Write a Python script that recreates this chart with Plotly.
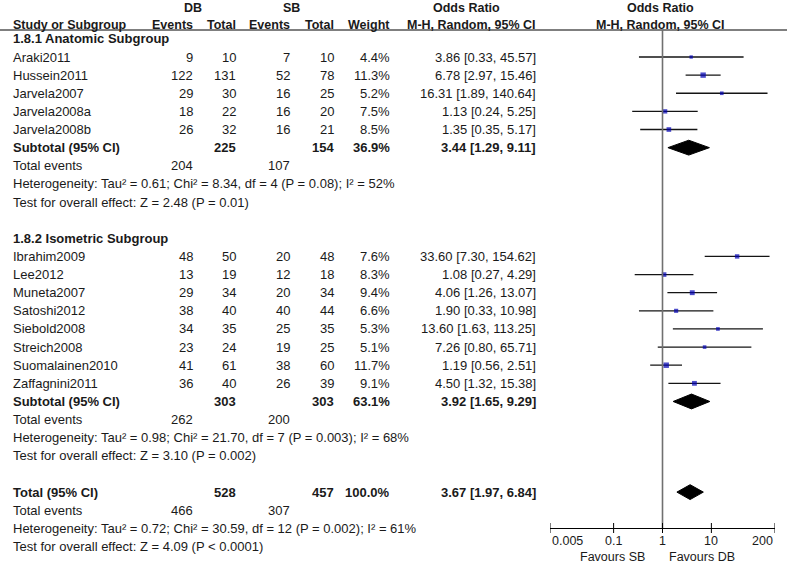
import math
import plotly.graph_objects as go

W, H = 787, 563

# ---------------- data ----------------
g1_title = "1.8.1 Anatomic Subgroup"
g1_studies = ["Araki2011", "Hussein2011", "Jarvela2007", "Jarvela2008a", "Jarvela2008b"]
g1_db_events = [9, 122, 29, 18, 26]
g1_db_total = [10, 131, 30, 22, 32]
g1_sb_events = [7, 52, 16, 16, 16]
g1_sb_total = [10, 78, 25, 20, 21]
g1_weight = [4.4, 11.3, 5.2, 7.5, 8.5]
g1_or = [3.86, 6.78, 16.31, 1.13, 1.35]
g1_lo = [0.33, 2.97, 1.89, 0.24, 0.35]
g1_hi = [45.57, 15.46, 140.64, 5.25, 5.17]
g1_sub = dict(db_total=225, sb_total=154, weight=36.9, est=3.44, lo=1.29, hi=9.11,
              db_ev=204, sb_ev=107)
g1_het = "Heterogeneity: Tau² = 0.61; Chi² = 8.34, df = 4 (P = 0.08); I² = 52%"
g1_test = "Test for overall effect: Z = 2.48 (P = 0.01)"

g2_title = "1.8.2 Isometric Subgroup"
g2_studies = ["Ibrahim2009", "Lee2012", "Muneta2007", "Satoshi2012", "Siebold2008",
              "Streich2008", "Suomalainen2010", "Zaffagnini2011"]
g2_db_events = [48, 13, 29, 38, 34, 23, 41, 36]
g2_db_total = [50, 19, 34, 40, 35, 24, 61, 40]
g2_sb_events = [20, 12, 20, 40, 25, 19, 38, 26]
g2_sb_total = [48, 18, 34, 44, 35, 25, 60, 39]
g2_weight = [7.6, 8.3, 9.4, 6.6, 5.3, 5.1, 11.7, 9.1]
g2_or = [33.60, 1.08, 4.06, 1.90, 13.60, 7.26, 1.19, 4.50]
g2_lo = [7.30, 0.27, 1.26, 0.33, 1.63, 0.80, 0.56, 1.32]
g2_hi = [154.62, 4.29, 13.07, 10.98, 113.25, 65.71, 2.51, 15.38]
g2_sub = dict(db_total=303, sb_total=303, weight=63.1, est=3.92, lo=1.65, hi=9.29,
              db_ev=262, sb_ev=200)
g2_het = "Heterogeneity: Tau² = 0.98; Chi² = 21.70, df = 7 (P = 0.003); I² = 68%"
g2_test = "Test for overall effect: Z = 3.10 (P = 0.002)"

tot = dict(db_total=528, sb_total=457, weight=100.0, est=3.67, lo=1.97, hi=6.84,
           db_ev=466, sb_ev=307)
tot_het = "Heterogeneity: Tau² = 0.72; Chi² = 30.59, df = 12 (P = 0.002); I² = 61%"
tot_test = "Test for overall effect: Z = 4.09 (P < 0.0001)"

tick_vals = [0.005, 0.1, 1, 10, 200]
tick_text = ["0.005", "0.1", "1", "10", "200"]
favours_left = "Favours SB"
favours_right = "Favours DB"

# ---------------- layout helpers ----------------
ROW0 = 57.0      # pixel of first study row
ROWH = 18.13     # pixel height of a row

def px(x):
    return x / W

def py(p):
    return 1 - p / H

FONT = "Liberation Sans, Arial, sans-serif"
TXT = "#1a1a1a"
BODY = 13
HEAD = 12.5
COL_NAME = 11
COL_DBE, COL_DBT, COL_SBE, COL_SBT, COL_W, COL_OR = 195, 238, 292, 336, 392, 538

annotations = []
def txt(x, r, s, anchor="right", bold=False, size=BODY):
    annotations.append(dict(
        x=px(x), y=r, xref="paper", yref="y", text=f"<b>{s}</b>" if bold else s,
        showarrow=False, xanchor=anchor, yanchor="middle",
        font=dict(family=FONT, size=size, color=TXT)))

def hdr(x, p, s, anchor="center"):
    annotations.append(dict(
        x=px(x), y=py(p), xref="paper", yref="paper", text=f"<b>{s}</b>",
        showarrow=False, xanchor=anchor, yanchor="middle",
        font=dict(family=FONT, size=HEAD, color=TXT)))

# header
hdr(193, 8, "DB")
hdr(291, 8, "SB")
hdr(467, 8, "Odds Ratio")
hdr(660, 8, "Odds Ratio")
hdr(COL_NAME, 25, "Study or Subgroup", "left")
hdr(COL_DBE, 25, "Events", "right")
hdr(COL_DBT, 25, "Total", "right")
hdr(COL_SBE, 25, "Events", "right")
hdr(COL_SBT, 25, "Total", "right")
hdr(COL_W, 25, "Weight", "right")
hdr(COL_OR, 25, "M-H, Random, 95% CI", "right")
hdr(660, 25, "M-H, Random, 95% CI")

def fmt_or(e, l, h):
    return f"{e:.2f} [{l:.2f}, {h:.2f}]"

fig = go.Figure()

def summary(r, label, s):
    txt(COL_NAME, r, label, "left", bold=True)
    txt(COL_DBT, r, str(s["db_total"]), bold=True)
    txt(COL_SBT, r, str(s["sb_total"]), bold=True)
    txt(COL_W, r, f"{s['weight']:.1f}%", bold=True)
    txt(COL_OR, r, fmt_or(s["est"], s["lo"], s["hi"]), bold=True)
    h = 0.41
    fig.add_trace(go.Scatter(
        x=[s["lo"], s["est"], s["hi"], s["est"], s["lo"]],
        y=[r, r - h, r, r + h, r], mode="lines", fill="toself",
        fillcolor="#000000", line=dict(color="#000000", width=1),
        hoverinfo="skip", showlegend=False))

def group(start, title, studies, dbe, dbt, sbe, sbt, w, est, lo, hi, sub, het, test):
    txt(COL_NAME, start - 1, title, "left", bold=True)
    rows = []
    for i, name in enumerate(studies):
        r = start + i
        rows.append(r)
        txt(COL_NAME, r, name, "left")
        txt(COL_DBE, r, str(dbe[i]))
        txt(COL_DBT, r, str(dbt[i]))
        txt(COL_SBE, r, str(sbe[i]))
        txt(COL_SBT, r, str(sbt[i]))
        txt(COL_W, r, f"{w[i]:.1f}%")
        txt(COL_OR, r, fmt_or(est[i], lo[i], hi[i]))
    xs, ys = [], []
    for r, l, h in zip(rows, lo, hi):
        xs += [l, h, None]
        ys += [r, r, None]
    fig.add_trace(go.Scatter(x=xs, y=ys, mode="lines",
                             line=dict(color="#141414", width=1.3),
                             hoverinfo="skip", showlegend=False))
    fig.add_trace(go.Scatter(x=est, y=rows, mode="markers",
                             marker=dict(symbol="square", color="#0000b4",
                                         size=[1.6 * v ** 0.5 for v in w],
                                         line=dict(width=0)),
                             showlegend=False))
    r_sub = start + len(studies)
    summary(r_sub, "Subtotal (95% CI)", sub)
    txt(COL_NAME, r_sub + 1, "Total events", "left")
    txt(COL_DBE, r_sub + 1, str(sub["db_ev"]))
    txt(COL_SBE, r_sub + 1, str(sub["sb_ev"]))
    txt(COL_NAME, r_sub + 2, het, "left")
    txt(COL_NAME, r_sub + 3, test, "left")
    return r_sub + 3

end1 = group(0, g1_title, g1_studies, g1_db_events, g1_db_total, g1_sb_events,
             g1_sb_total, g1_weight, g1_or, g1_lo, g1_hi, g1_sub, g1_het, g1_test)
start2 = end1 + 3
end2 = group(start2, g2_title, g2_studies, g2_db_events, g2_db_total, g2_sb_events,
             g2_sb_total, g2_weight, g2_or, g2_lo, g2_hi, g2_sub, g2_het, g2_test)
r_tot = end2 + 2
summary(r_tot, "Total (95% CI)", tot)
txt(COL_NAME, r_tot + 1, "Total events", "left")
txt(COL_DBE, r_tot + 1, str(tot["db_ev"]))
txt(COL_SBE, r_tot + 1, str(tot["sb_ev"]))
txt(COL_NAME, r_tot + 2, tot_het, "left")
txt(COL_NAME, r_tot + 3, tot_test, "left")

AXIS_Y = 528
LINE_Y = 30

# tick labels (end labels sit inside the axis, as in RevMan)
for i, (tv, tt) in enumerate(zip(tick_vals, tick_text)):
    anchor = "left" if i == 0 else ("right" if i == len(tick_vals) - 1 else "center")
    annotations.append(dict(x=math.log10(tv), y=py(541), xref="x", yref="paper",
                            text=tt, showarrow=False, xanchor=anchor, yanchor="middle",
                            font=dict(family=FONT, size=12.5, color=TXT)))

annotations.append(dict(x=px(647), y=py(557), xref="paper", yref="paper",
                        text=favours_left, showarrow=False, xanchor="right",
                        yanchor="middle", font=dict(family=FONT, size=12.5, color=TXT)))
annotations.append(dict(x=px(667), y=py(557), xref="paper", yref="paper",
                        text=favours_right, showarrow=False, xanchor="left",
                        yanchor="middle", font=dict(family=FONT, size=12.5, color=TXT)))

shapes = [
    dict(type="line", xref="paper", yref="paper", x0=0, x1=1,
         y0=py(LINE_Y), y1=py(LINE_Y), line=dict(color="#555555", width=1.5)),
    dict(type="line", xref="x", yref="paper", x0=1, x1=1,
         y0=py(LINE_Y), y1=py(AXIS_Y), line=dict(color="#707070", width=1.6)),
]
for tv in tick_vals:
    shapes.append(dict(type="line", xref="x", yref="paper", x0=tv, x1=tv,
                       y0=py(AXIS_Y + 5), y1=py(AXIS_Y - 5),
                       line=dict(color="#000000", width=1)))

fig.update_layout(
    width=W, height=H, margin=dict(l=0, r=0, t=0, b=0),
    paper_bgcolor="white", plot_bgcolor="rgba(0,0,0,0)",
    showlegend=False, annotations=annotations, shapes=shapes,
    xaxis=dict(type="log", domain=[px(550), px(775)],
               range=[math.log10(tick_vals[0]), math.log10(tick_vals[-1])],
               anchor="free", position=py(AXIS_Y),
               showgrid=False, zeroline=False, showline=True, linecolor="#000000",
               linewidth=1, ticks="", showticklabels=False),
    yaxis=dict(range=[(H - ROW0) / ROWH, -ROW0 / ROWH], domain=[0, 1],
               visible=False, showgrid=False, zeroline=False),
)

fig.write_html("out.html", config={"displayModeBar": False},
               post_script="document.body.style.margin='0px';document.body.style.overflow='hidden';")
